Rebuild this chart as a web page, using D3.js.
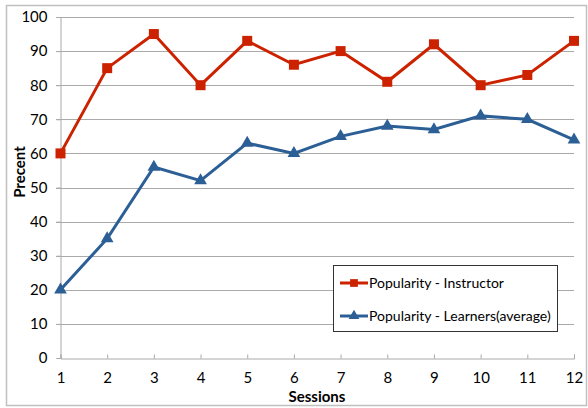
<!DOCTYPE html>
<html>
<head>
<meta charset="utf-8">
<script src="https://cdn.jsdelivr.net/npm/d3@7"></script>
<style>
  body { margin: 0; background: #fff; }
  text { font-family: Lato, "Open Sans", sans-serif; fill: #000; }
</style>
</head>
<body>
<svg width="588" height="408"></svg>
<script>
// sessions and the two popularity series
var sessions = [1, 2, 3, 4, 5, 6, 7, 8, 9, 10, 11, 12];
var instructor = [60, 85, 95, 80, 93, 86, 90, 81, 92, 80, 83, 93];
var learners = [20, 35, 56, 52, 63, 60, 65, 68, 67, 71, 70, 64];
var yTicks = [0, 10, 20, 30, 40, 50, 60, 70, 80, 90, 100];
var seriesNames = ["Popularity - Instructor", "Popularity - Learners(average)"];

var red = "#cc2200", blue = "#2c5f95";

var svg = d3.select("svg");

var x = d3.scaleLinear().domain([1, 12]).range([60.5, 574]);
var y = d3.scaleLinear().domain([0, 100]).range([358, 17]);

// outer chart frame
svg.append("rect")
    .attr("x", 6.5).attr("y", 5.5)
    .attr("width", 580).attr("height", 400)
    .attr("fill", "none").attr("stroke", "#c0c0c0").attr("stroke-width", 1.5);

// gridlines
svg.append("g")
    .selectAll("line")
    .data(yTicks.filter(d => d > 0))
    .join("line")
    .attr("x1", 56).attr("x2", 574)
    .attr("y1", d => Math.round(y(d)) + 0.5).attr("y2", d => Math.round(y(d)) + 0.5)
    .attr("stroke", "#aaaaaa");

// y axis
var yAxis = svg.append("g")
    .attr("transform", "translate(60.5,0)")
    .call(d3.axisLeft(y).tickValues(yTicks).tickSize(4).tickPadding(9));
yAxis.select(".domain").attr("stroke", "#aaaaaa");
yAxis.selectAll(".tick line").attr("stroke", "#aaaaaa");
yAxis.selectAll("text").style("font-size", "15px");

// x axis
var xAxis = svg.append("g")
    .attr("transform", "translate(0,358.5)")
    .call(d3.axisBottom(x).tickValues(sessions).tickSize(-4).tickPadding(14).tickFormat(d3.format("d")));
xAxis.select(".domain").attr("stroke", "#aaaaaa");
xAxis.selectAll(".tick line").attr("stroke", "#aaaaaa");
xAxis.selectAll("text").style("font-size", "15px");

svg.append("text")
    .text("Sessions")
    .attr("x", 317).attr("y", 402)
    .attr("text-anchor", "middle")
    .style("font-size", "15px").style("font-weight", "bold");

svg.append("text")
    .text("Precent")
    .attr("transform", "translate(25,172) rotate(-90)")
    .attr("text-anchor", "middle")
    .style("font-size", "15px").style("font-weight", "bold");

var line = d3.line().x((d, i) => x(sessions[i])).y(d => y(d));

function drawSeries(values, color, shape, size) {
    svg.append("path")
        .attr("d", line(values))
        .attr("fill", "none")
        .attr("stroke", color)
        .attr("stroke-width", 3);
    svg.append("g")
        .selectAll("path")
        .data(values)
        .join("path")
        .attr("transform", (d, i) => "translate(" + x(sessions[i]) + "," + y(d) + ")")
        .attr("d", d3.symbol().type(shape).size(size))
        .attr("fill", color);
}

drawSeries(instructor, red, d3.symbolSquare, 100);
drawSeries(learners, blue, d3.symbolTriangle, 70);

// legend
var legend = svg.append("g");
legend.append("rect")
    .attr("x", 333.5).attr("y", 265.5)
    .attr("width", 224).attr("height", 66)
    .attr("fill", "#fff").attr("stroke", "#333").attr("stroke-width", 1);

[[red, d3.symbolSquare, 60], [blue, d3.symbolTriangle, 50]].forEach(function(s, i) {
    var ly = 283 + i * 33;
    legend.append("line")
        .attr("x1", 340).attr("x2", 368).attr("y1", ly).attr("y2", ly)
        .attr("stroke", s[0]).attr("stroke-width", 3);
    legend.append("path")
        .attr("transform", "translate(354," + ly + ")")
        .attr("d", d3.symbol().type(s[1]).size(s[2]))
        .attr("fill", s[0]);
    legend.append("text")
        .text(seriesNames[i])
        .attr("x", 369).attr("y", ly + 5)
        .style("font-size", "14px");
});
</script>
</body>
</html>
